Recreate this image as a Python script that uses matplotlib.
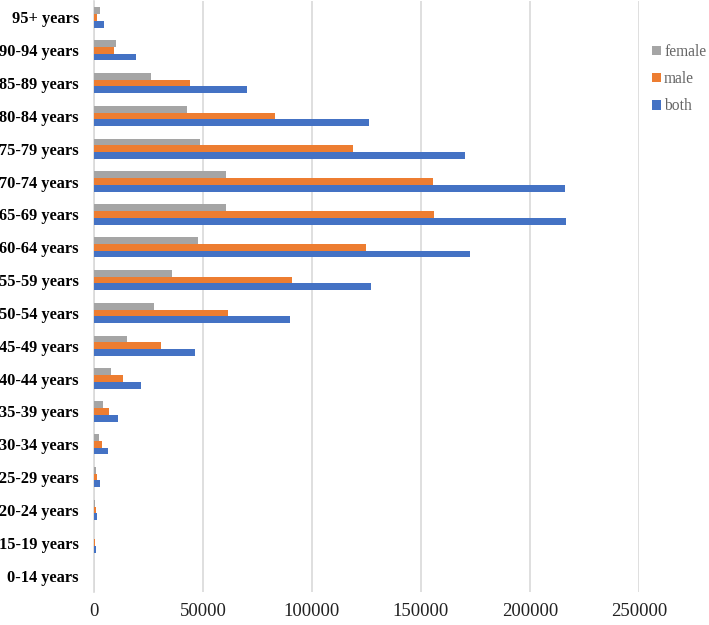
import numpy as np
import matplotlib
matplotlib.use("Agg")
import matplotlib.pyplot as plt

categories = ["0-14 years", "15-19 years", "20-24 years", "25-29 years", "30-34 years",
              "35-39 years", "40-44 years", "45-49 years", "50-54 years", "55-59 years",
              "60-64 years", "65-69 years", "70-74 years", "75-79 years", "80-84 years",
              "85-89 years", "90-94 years", "95+ years"]
both = [60, 900, 1400, 2750, 6300, 11200, 21700, 46200, 89700, 126900,
        172600, 216600, 216000, 170100, 126000, 70400, 19300, 4600]
male = [30, 300, 900, 1500, 3700, 6900, 13500, 30900, 61500, 91000,
        124800, 155800, 155300, 118900, 83200, 44200, 9200, 1400]
female = [20, 150, 400, 1100, 2300, 4000, 7950, 15100, 27700, 35600,
          47700, 60600, 60600, 48600, 42700, 26000, 9950, 2750]

plt.rcParams["font.family"] = ["Liberation Serif", "DejaVu Serif"]

fig = plt.figure(figsize=(7.09, 6.25), dpi=100)
ax = fig.add_axes([94 / 709, 1 - 592 / 625, (639 - 94) / 709, 591 / 625])

y = np.arange(len(categories))
h = 0.205
ax.barh(y - h, both, height=h, color="#4472C4", label="both", zorder=3)
ax.barh(y, male, height=h, color="#ED7D31", label="male", zorder=3)
ax.barh(y + h, female, height=h, color="#A5A5A5", label="female", zorder=3)

ax.set_xlim(0, 250000)
ax.set_ylim(-0.5, len(categories) - 0.5)
ax.set_xticks(np.arange(0, 250001, 50000))
ax.set_xticklabels([str(v) for v in range(0, 250001, 50000)], fontsize=13.5, color="#222222")
ax.set_yticks(y)
ax.set_yticklabels(categories, fontsize=11.8, fontweight="bold")
ax.tick_params(axis="both", length=0)
ax.tick_params(axis="x", pad=8)
ax.tick_params(axis="y", pad=10.8)
ax.grid(axis="x", color="#d9d9d9", linewidth=1.2, zorder=0)
for s in ["top", "right", "bottom"]:
    ax.spines[s].set_visible(False)
ax.spines["left"].set_color("#d9d9d9")
ax.spines["left"].set_linewidth(1.2)

handles, labels = ax.get_legend_handles_labels()
leg = fig.legend(handles[::-1], labels[::-1], loc="upper left",
                 bbox_to_anchor=(652 / 709, 1 - 44 / 625), frameon=False,
                 fontsize=11.2, handlelength=0.55, handleheight=0.55,
                 handletextpad=0.22, labelspacing=0.72, borderaxespad=0,
                 borderpad=0)
for t in leg.get_texts():
    t.set_color("#666666")

fig.savefig("out.png", dpi=100)
